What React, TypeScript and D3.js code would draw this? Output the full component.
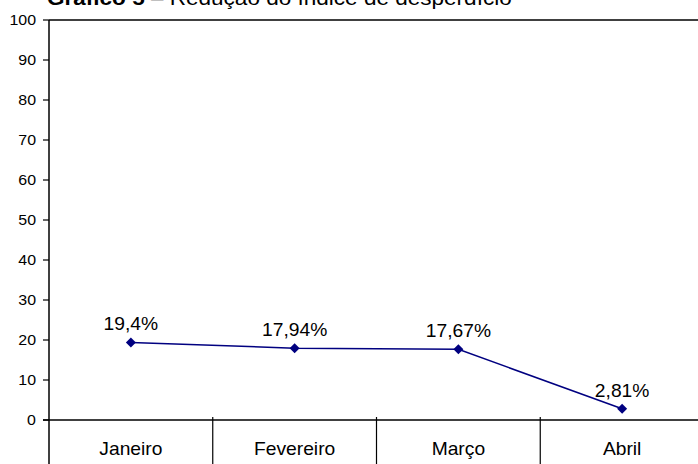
import React from "react";
import * as d3 from "d3";

const categories = ["Janeiro", "Fevereiro", "Março", "Abril"];
const values = [19.4, 17.94, 17.67, 2.81];
const valueLabels = ["19,4%", "17,94%", "17,67%", "2,81%"];
const yTicks = [0, 10, 20, 30, 40, 50, 60, 70, 80, 90, 100];

const W = 698;
const H = 464;
const left = 49;
const top = 20;
const bottom = 420;
const right = 704;
const SX = 1.1;

function T(props: {
  x: number;
  y: number;
  size: number;
  anchor?: string;
  dy?: string;
  children: React.ReactNode;
}) {
  return (
    <text
      transform={`translate(${props.x},${props.y}) scale(${SX},1)`}
      textAnchor={props.anchor || "start"}
      dy={props.dy}
      fontSize={props.size}
      fill="#000"
    >
      {props.children}
    </text>
  );
}

export default function App() {
  const x = d3.scaleBand<string>().domain(categories).range([left, right]).padding(0);
  const y = d3.scaleLinear().domain([0, 100]).range([bottom, top]);
  const cxOf = (i: number) => x(categories[i])! + x.bandwidth() / 2;
  const line = d3
    .line<number>()
    .x((_, i) => cxOf(i))
    .y((d) => y(d));
  const font = "'Liberation Sans', Arial, sans-serif";
  const diamond = d3.symbol().type(d3.symbolSquare).size(50)()!;
  return (
    <svg
      width={W}
      height={H}
      style={{ position: "absolute", left: 0, top: 0, background: "#fff" }}
      fontFamily={font}
    >
      <T x={47} y={5} size={20.5}>
        <tspan fontWeight="bold">Gráfico 5</tspan>
        <tspan> – Redução do índice de desperdício</tspan>
      </T>
      {/* plot frame */}
      <line x1={left} x2={right} y1={top} y2={top} stroke="#000" strokeWidth={1.5} />
      <line x1={left} x2={left} y1={top} y2={H} stroke="#000" strokeWidth={1.5} />
      <line x1={left - 6} x2={right} y1={bottom} y2={bottom} stroke="#000" strokeWidth={1.5} />
      {yTicks.map((t) => (
        <g key={t}>
          <line x1={left - 6} x2={left} y1={y(t)} y2={y(t)} stroke="#000" strokeWidth={1.2} />
          <T x={36} y={y(t)} dy="0.35em" anchor="end" size={14.5}>
            {t}
          </T>
        </g>
      ))}
      {categories.map((c, i) => (
        <g key={c}>
          {i > 0 && (
            <line x1={x(c)!} x2={x(c)!} y1={bottom - 3} y2={H} stroke="#000" strokeWidth={1.2} />
          )}
          <T x={cxOf(i)} y={455} anchor="middle" size={17.5}>
            {c}
          </T>
        </g>
      ))}
      <path d={line(values)!} fill="none" stroke="#000080" strokeWidth={1.5} />
      {values.map((v, i) => {
        const cx = cxOf(i);
        const cy = y(v);
        return (
          <g key={i}>
            <path d={diamond} transform={`translate(${cx},${cy}) rotate(45)`} fill="#000080" />
            <T x={cx} y={cy - 12} anchor="middle" size={17.5}>
              {valueLabels[i]}
            </T>
          </g>
        );
      })}
    </svg>
  );
}
